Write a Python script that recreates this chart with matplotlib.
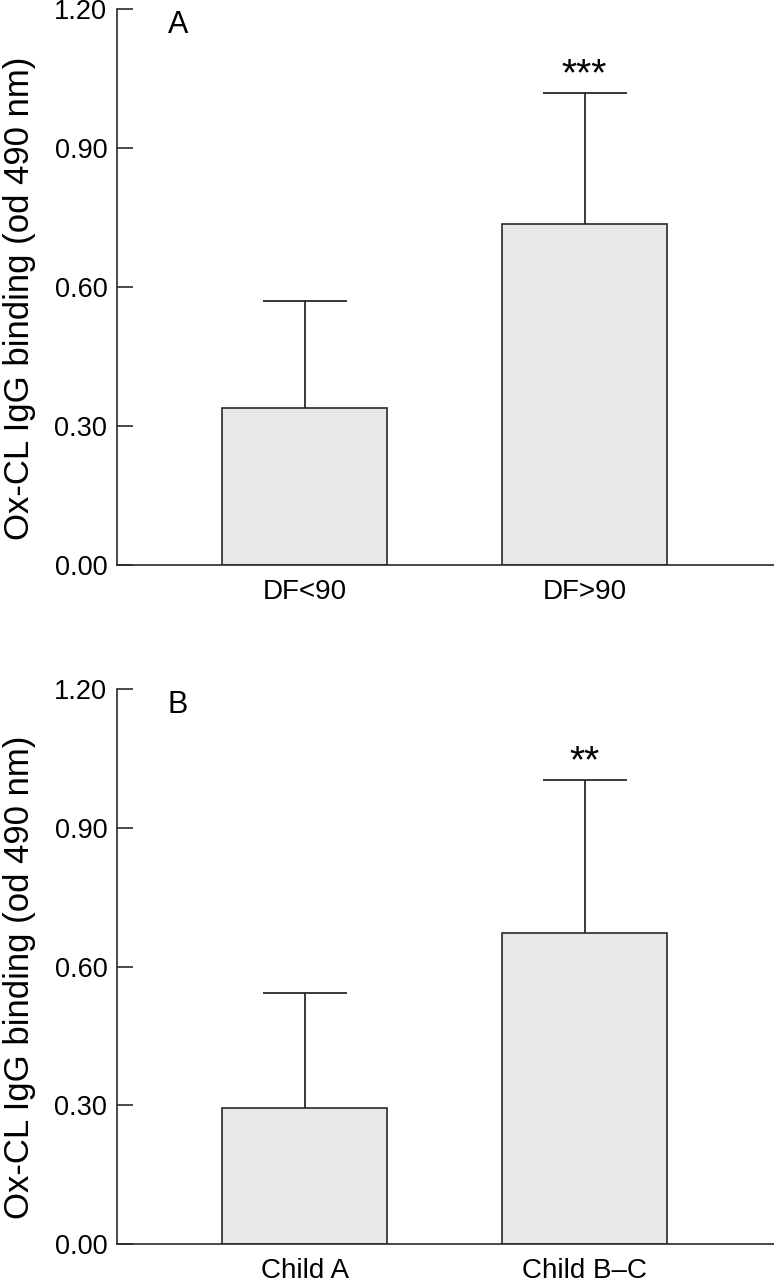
import matplotlib.pyplot as plt

plt.rcParams["font.family"] = ["Liberation Sans", "DejaVu Sans"]

# panel A
CATS_A = ["DF<90", "DF>90"]
MEAN_A = [0.339, 0.736]
ERR_A = [0.231, 0.283]
SIG_A = ["", "***"]

# panel B
CATS_B = ["Child A", "Child B\u2013C"]
MEAN_B = [0.294, 0.672]
ERR_B = [0.249, 0.331]
SIG_B = ["", "**"]

YTICKS = [0.0, 0.3, 0.6, 0.9, 1.2]
YLABEL = "Ox-CL IgG binding (od 490 nm)"

FILL = "#e7e8e7"
EDGE = "#2a2a2a"


def panel(ax, cats, means, errs, sigs, letter):
    x = [1, 2]
    # symmetric bars behind the boxes so only the upper half shows
    ax.errorbar(x, means, yerr=errs, fmt="none", ecolor=EDGE, elinewidth=1.3,
                capsize=30.5, capthick=1.3, zorder=1)
    ax.bar(x, means, width=0.589, color=FILL, edgecolor=EDGE, linewidth=1.2,
           zorder=2)
    for xi, m, e, s in zip(x, means, errs, sigs):
        if s:
            ax.text(xi, m + e + 0.016, s, ha="center", va="baseline",
                    fontsize=28)
    ax.set_xlim(0.3304, 2.6768)
    ax.set_ylim(0, 1.2)
    ax.set_yticks(YTICKS)
    ax.set_yticklabels([f"{t:.2f}" for t in YTICKS])
    ax.set_xticks(x)
    ax.set_xticklabels(cats)
    ax.spines["top"].set_visible(False)
    ax.spines["right"].set_visible(False)
    for sp in ("left", "bottom"):
        ax.spines[sp].set_linewidth(1.2)
        ax.spines[sp].set_color(EDGE)
        ax.spines[sp].set_zorder(3)
    ax.tick_params(axis="y", direction="in", length=11.5, width=1.2,
                   color=EDGE, pad=7, labelsize=19.5)
    ax.tick_params(axis="x", length=0, pad=10, labelsize=20)
    ax.set_ylabel(YLABEL, fontsize=25)
    ax.yaxis.set_label_coords(-0.124, 0.48)
    ax.text(0.548, 1.165, letter, ha="center", va="center", fontsize=22)


fig = plt.figure(figsize=(7.74, 12.8), dpi=100)
ax_a = fig.add_axes([0.1512, 0.5586, 0.8488, 0.4344])
ax_b = fig.add_axes([0.1512, 0.0281, 0.8488, 0.4336])
panel(ax_a, CATS_A, MEAN_A, ERR_A, SIG_A, "A")
panel(ax_b, CATS_B, MEAN_B, ERR_B, SIG_B, "B")

fig.savefig("out.png", dpi=100)
